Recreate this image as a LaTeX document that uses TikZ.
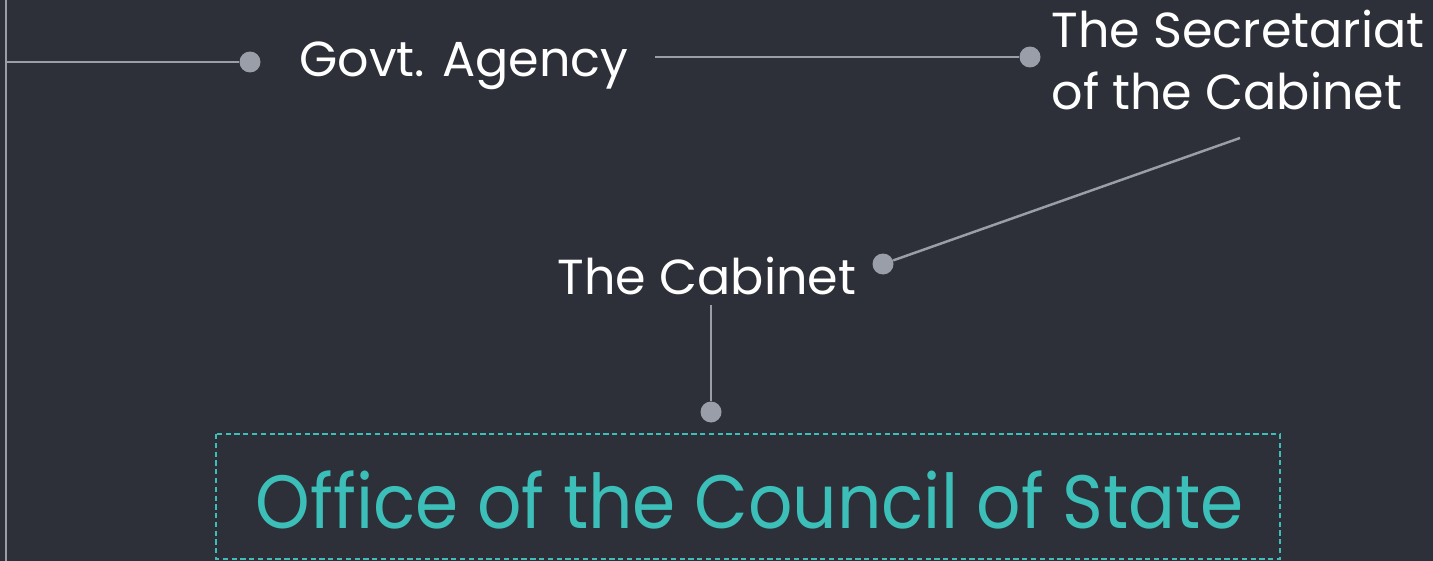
\documentclass[tikz,border=0pt]{standalone}
\usepackage{fontspec}
\setmainfont{Poppins}
\usepackage{xcolor}
\definecolor{bgdark}{HTML}{2D3038}
\definecolor{linegray}{HTML}{9A9EA8}
\definecolor{teal}{HTML}{3BBFB8}
\tikzset{
  link/.style={draw=linegray, line width=1.4pt},
  bead/.style={circle, fill=linegray, inner sep=0pt, minimum size=0.42cm},
  label/.style={text=white, font=\fontsize{28}{35}\selectfont, inner sep=0pt},
}
\begin{document}
\begin{tikzpicture}[x=0.02cm, y=-0.02cm]
  % Background
  \fill[bgdark] (0,0) rectangle (1433,561);
  \useasboundingbox (0,0) rectangle (1433,561);
  % Left rail
  \coordinate (railtop) at (6,0);
  \coordinate (railbot) at (6,561);
  \coordinate (spine) at (6,62);
  \draw[link] (railtop) -- (railbot);
  % Beads
  \node[bead] (govdot) at (250,62) {};
  \node[bead] (secdot) at (1030,57) {};
  \node[bead] (cabdot) at (883,264) {};
  \node[bead] (offdot) at (711,412) {};
  % Labels
  \node[label] (gov) at (464,66) {Govt. Agency};
  \node[label, align=left] (sec) at (1238,60) {The Secretariat\\of the Cabinet};
  \node[label] (cab) at (707,276) {The Cabinet};
  % Loose ends of the connectors
  \coordinate (govend) at (655,57);
  \coordinate (secend) at (1240,138);
  \coordinate (cabend) at (711,305);
  % Connectors
  \draw[link] (spine) -- (govdot);
  \draw[link] (govend) -- (secdot);
  \draw[link] (secend) -- (cabdot);
  \draw[link] (cabend) -- (offdot);
  % Office box
  \draw[teal, line width=0.9pt, dash pattern=on 3pt off 2pt] (216,434) rectangle (1280,559);
  \node[text=teal, font=\fontsize{43}{50}\selectfont, inner sep=0pt] (office) at (750,500) {\scalebox{0.92}[1]{Office of the Council of State}};
\end{tikzpicture}
\end{document}
